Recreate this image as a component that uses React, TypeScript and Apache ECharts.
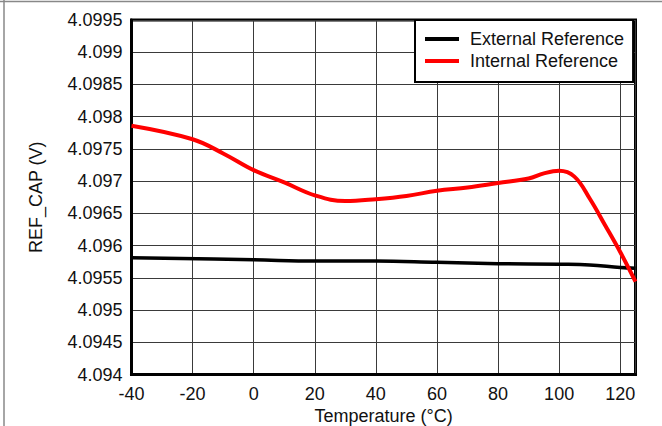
import React, { useEffect, useRef } from "react";
import * as echarts from "echarts";

const temps = [-40, -20, -10, 0, 10, 20, 30, 40, 50, 60, 70, 80, 90, 95, 100, 105, 110, 115, 120, 125];
const internalRef = [4.09786, 4.09765, 4.09743, 4.09717, 4.09698, 4.09678, 4.09669, 4.09672, 4.09677, 4.09685, 4.0969, 4.09697, 4.09704, 4.09712, 4.09716, 4.09707, 4.09673, 4.09632, 4.0959, 4.09544];

const extTemps = [-40, 0, 20, 40, 60, 80, 100, 110, 120, 125];
const externalRef = [4.09581, 4.09578, 4.09576, 4.09576, 4.09574, 4.09572, 4.09571, 4.0957, 4.09566, 4.09565];

const seriesNames = ["External Reference", "Internal Reference"];
const xTitle = "Temperature (°C)";
const yTitle = "REF_CAP (V)";

const FONT = '"Liberation Sans", Arial, sans-serif';

export default function App() {
  const ref = useRef<HTMLDivElement>(null);
  useEffect(() => {
    if (!ref.current) return;
    const chart = echarts.init(ref.current, undefined, { renderer: "svg" });
    chart.setOption({
      animation: false,
      backgroundColor: "#fff",
      textStyle: { fontFamily: FONT },
      grid: {
        left: 131.5,
        right: 26.5,
        top: 20,
        bottom: 51.5,
        show: true,
        borderColor: "#000",
        borderWidth: 3,
        outerBoundsMode: "none",
        containLabel: false,
      },
      legend: {
        orient: "vertical",
        left: 415,
        top: 20,
        padding: [9, 9, 11, 10],
        itemGap: 2,
        itemWidth: 34,
        itemHeight: 4,
        icon: "rect",
        borderColor: "#000",
        borderWidth: 2,
        backgroundColor: "#fff",
        textStyle: { fontSize: 18, color: "#111", fontFamily: FONT, lineHeight: 20, padding: [0, 0, 0, 6] },
        data: seriesNames,
      },
      xAxis: {
        type: "value",
        min: -40,
        max: 125,
        interval: 20,
        name: xTitle,
        nameLocation: "middle",
        nameGap: 33,
        nameMoveOverlap: false,
        nameTextStyle: { fontSize: 18, lineHeight: 16, color: "#111", fontFamily: FONT },
        axisLine: { show: true, onZero: false, lineStyle: { color: "#000", width: 3 } },
        axisTick: { show: false },
        axisLabel: {
          fontSize: 18,
          lineHeight: 16,
          color: "#111",
          margin: 11,
          fontFamily: FONT,
          formatter: (v: number) => (v > 120 ? "" : String(v)),
        },
        splitLine: { show: true, lineStyle: { color: "#3a3a3a", width: 1 } },
      },
      yAxis: {
        type: "value",
        min: 4.094,
        max: 4.0995,
        interval: 0.0005,
        name: yTitle,
        nameLocation: "middle",
        nameGap: 87,
        nameMoveOverlap: false,
        nameTextStyle: { fontSize: 18, color: "#111", fontFamily: FONT },
        axisLine: { show: true, onZero: false, lineStyle: { color: "#000", width: 3 } },
        axisTick: { show: false },
        axisLabel: {
          fontSize: 18,
          color: "#111",
          margin: 9,
          fontFamily: FONT,
          formatter: (v: number) => String(parseFloat(v.toFixed(4))),
        },
        splitLine: { show: true, lineStyle: { color: "#3a3a3a", width: 1 } },
      },
      graphic: [
        { type: "line", shape: { x1: 0, y1: 1.5, x2: 662, y2: 1.5 }, style: { stroke: "#888", lineWidth: 1.5 }, z: 100 },
        { type: "line", shape: { x1: 4, y1: 0, x2: 4, y2: 426 }, style: { stroke: "#888", lineWidth: 1.5 }, z: 100 },
      ],
      series: [
        {
          name: seriesNames[0],
          type: "line",
          smooth: 0.4,
          showSymbol: false,
          data: extTemps.map((t, i) => [t, externalRef[i]]),
          lineStyle: { color: "#000", width: 3.5 },
          itemStyle: { color: "#000" },
          z: 3,
        },
        {
          name: seriesNames[1],
          type: "line",
          smooth: 0.4,
          showSymbol: false,
          data: temps.map((t, i) => [t, internalRef[i]]),
          lineStyle: { color: "#ff0000", width: 4 },
          itemStyle: { color: "#ff0000" },
          z: 4,
        },
      ],
    });
    return () => chart.dispose();
  }, []);
  return <div ref={ref} style={{ position: "fixed", left: 0, top: 0, width: 662, height: 426 }} />;
}
